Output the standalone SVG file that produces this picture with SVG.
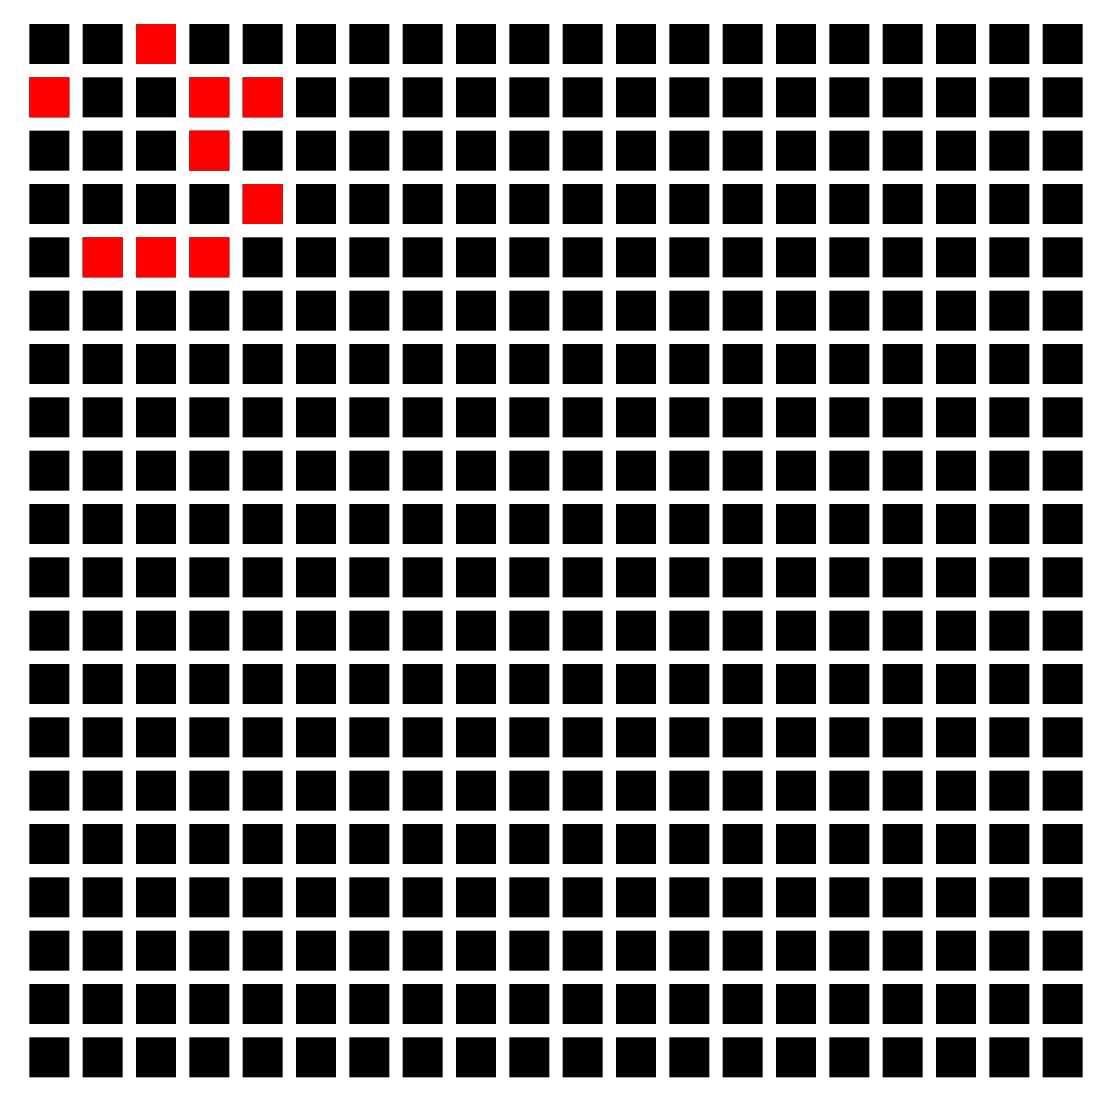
<svg xmlns="http://www.w3.org/2000/svg" xmlns:xlink="http://www.w3.org/1999/xlink" width="1112" height="1101" viewBox="0 0 1112 1101">
<style>
.k{fill:#000}
.r{fill:#ff0000}
</style>
<defs>
<rect id="c" width="40" height="40"/>
<g id="row" class="k">
<use href="#c" x="29.333"/><use href="#c" x="82.667"/><use href="#c" x="136"/><use href="#c" x="189.333"/><use href="#c" x="242.667"/>
<use href="#c" x="296"/><use href="#c" x="349.333"/><use href="#c" x="402.667"/><use href="#c" x="456"/><use href="#c" x="509.333"/>
<use href="#c" x="562.667"/><use href="#c" x="616"/><use href="#c" x="669.333"/><use href="#c" x="722.667"/><use href="#c" x="776"/>
<use href="#c" x="829.333"/><use href="#c" x="882.667"/><use href="#c" x="936"/><use href="#c" x="989.333"/><use href="#c" x="1042.667"/>
</g>
</defs>
<rect width="1112" height="1101" fill="#fff"/>
<g id="grid">
<use href="#row" y="24"/><use href="#row" y="77.333"/><use href="#row" y="130.667"/><use href="#row" y="184"/><use href="#row" y="237.333"/>
<use href="#row" y="290.667"/><use href="#row" y="344"/><use href="#row" y="397.333"/><use href="#row" y="450.667"/><use href="#row" y="504"/>
<use href="#row" y="557.333"/><use href="#row" y="610.667"/><use href="#row" y="664"/><use href="#row" y="717.333"/><use href="#row" y="770.667"/>
<use href="#row" y="824"/><use href="#row" y="877.333"/><use href="#row" y="930.667"/><use href="#row" y="984"/><use href="#row" y="1037.333"/>
</g>
<g id="highlight" class="r">
<use href="#c" x="136" y="24"/>
<use href="#c" x="29.333" y="77.333"/>
<use href="#c" x="189.333" y="77.333"/>
<use href="#c" x="242.667" y="77.333"/>
<use href="#c" x="189.333" y="130.667"/>
<use href="#c" x="242.667" y="184"/>
<use href="#c" x="82.667" y="237.333"/>
<use href="#c" x="136" y="237.333"/>
<use href="#c" x="189.333" y="237.333"/>
</g>
</svg>
